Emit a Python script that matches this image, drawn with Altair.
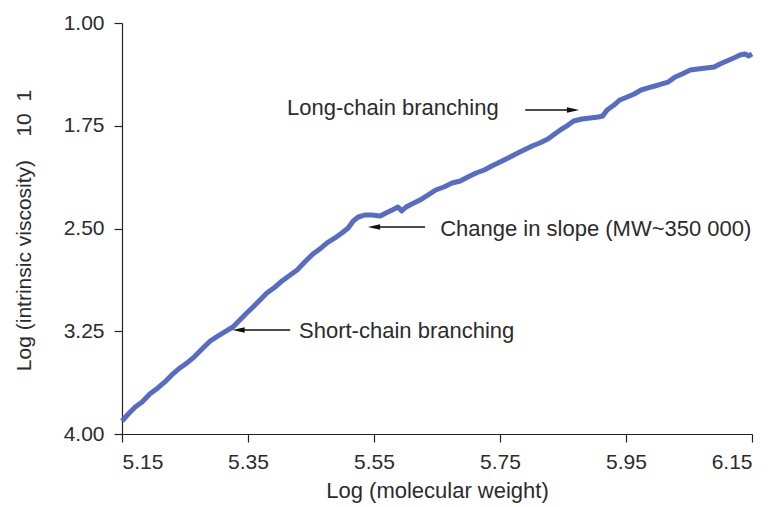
import altair as alt
import pandas as pd

# Curve: log(molecular weight) vs log(intrinsic viscosity)
log_mw = [5.150, 5.160, 5.171, 5.182, 5.194, 5.207, 5.218, 5.229, 5.242, 5.253,
          5.266, 5.277, 5.290, 5.302, 5.313, 5.326, 5.337, 5.348, 5.358, 5.369,
          5.380, 5.393, 5.404, 5.417, 5.428, 5.440, 5.453, 5.464, 5.475, 5.488,
          5.499, 5.509, 5.517, 5.525, 5.536, 5.547, 5.560, 5.569, 5.579, 5.588,
          5.594, 5.601, 5.610, 5.623, 5.636, 5.648, 5.661, 5.674, 5.687, 5.699,
          5.712, 5.725, 5.737, 5.750, 5.763, 5.775, 5.788, 5.801, 5.813, 5.826,
          5.839, 5.848, 5.858, 5.867, 5.880, 5.893, 5.906, 5.913, 5.920, 5.931,
          5.940, 5.952, 5.963, 5.974, 5.985, 5.996, 6.007, 6.017, 6.028, 6.039,
          6.052, 6.064, 6.077, 6.090, 6.099, 6.110, 6.121, 6.131, 6.139, 6.145,
          6.150]
log_iv = [3.905, 3.854, 3.803, 3.766, 3.708, 3.664, 3.620, 3.569, 3.518, 3.482,
          3.431, 3.380, 3.321, 3.285, 3.255, 3.219, 3.168, 3.117, 3.073, 3.022,
          2.971, 2.927, 2.883, 2.839, 2.803, 2.745, 2.686, 2.650, 2.606, 2.569,
          2.533, 2.496, 2.445, 2.416, 2.401, 2.401, 2.409, 2.387, 2.365, 2.343,
          2.372, 2.343, 2.321, 2.292, 2.255, 2.219, 2.197, 2.168, 2.153, 2.124,
          2.095, 2.073, 2.044, 2.015, 1.985, 1.956, 1.927, 1.898, 1.876, 1.847,
          1.803, 1.774, 1.745, 1.715, 1.701, 1.693, 1.686, 1.679, 1.635, 1.599,
          1.562, 1.540, 1.518, 1.489, 1.474, 1.460, 1.445, 1.431, 1.394, 1.372,
          1.343, 1.336, 1.328, 1.321, 1.299, 1.277, 1.255, 1.234, 1.226, 1.241,
          1.226]

x_ticks = [5.15, 5.35, 5.55, 5.75, 5.95, 6.15]
y_ticks = [1.00, 1.75, 2.50, 3.25, 4.00]

# Annotations
ann_text = ["Long-chain branching", "Change in slope (MW~350 000)", "Short-chain branching"]
ann_text_x = [5.412, 5.655, 5.431]
ann_text_y = [1.62, 2.50, 3.25]
arrow_x_start = [5.790, 5.631, 5.417]
arrow_x_end = [5.866, 5.550, 5.335]
arrow_y = [1.635, 2.489, 3.241]
# arrowhead shapes (right- and left-pointing, long and narrow)
RIGHT = "M 1 0 L -1 -0.45 L -1 0.45 Z"
LEFT = "M -1 0 L 1 -0.45 L 1 0.45 Z"
arrow_shape = [RIGHT, LEFT, LEFT]

FONT = "Liberation Sans, Arial, sans-serif"
TXT = "#2b2b2b"
NB = "\u00a0"

curve = pd.DataFrame({"mw": log_mw, "iv": log_iv})
ann = pd.DataFrame({"text": ann_text, "tx": ann_text_x, "ty": ann_text_y,
                    "x0": arrow_x_start, "x1": arrow_x_end, "ay": arrow_y,
                    "shape": arrow_shape})

xscale = alt.Scale(domain=[5.15, 6.15], nice=False, zero=False)
yscale = alt.Scale(domain=[1.0, 4.0], reverse=True, nice=False, zero=False)

y_title = "Log (intrinsic viscosity)" + NB * 4 + "10" + NB * 2 + "1"

line = alt.Chart(curve).mark_line(color="#586cc6", strokeWidth=5, strokeJoin="round").encode(
    x=alt.X("mw:Q", scale=xscale,
            axis=alt.Axis(title="Log (molecular weight)", values=x_ticks, format=".2f",
                          titleX=315, titleY=56, titleBaseline="middle",
                          titleAlign="center")),
    y=alt.Y("iv:Q", scale=yscale,
            axis=alt.Axis(title=y_title, values=y_ticks, format=".2f",
                          titleX=-98, titleY=207, titleBaseline="middle",
                          titleAlign="center", titleAngle=-90, titleFontSize=21)),
)

rules = alt.Chart(ann).mark_rule(color="#111111", strokeWidth=1.3).encode(
    x="x0:Q", x2="x1:Q", y="ay:Q"
)

heads = alt.Chart(ann).mark_point(filled=True, color="#111111", size=150, opacity=1,
                                  strokeWidth=0).encode(
    x="x1:Q", y="ay:Q",
    shape=alt.Shape("shape:N", scale=None),
)

labels = alt.Chart(ann).mark_text(align="left", baseline="middle", font=FONT,
                                  fontSize=22, color=TXT).encode(
    x="tx:Q", y="ty:Q", text="text:N"
)

chart = alt.layer(line, rules, heads, labels).properties(
    width=630, height=411,
    autosize=alt.AutoSizeParams(type="none"),
    padding={"left": 114, "top": 15, "right": 12, "bottom": 70},
).configure_view(stroke=None).configure_axis(
    grid=False, domainColor="#222222", tickColor="#222222", domainWidth=1.2, tickWidth=1.2,
    tickSize=8, labelFont=FONT, labelFontSize=21, labelColor=TXT, labelPadding=9,
    titleFont=FONT, titleFontSize=22, titleColor=TXT, titleFontWeight="normal",
).configure_axisY(labelPadding=10)

chart.save("out.html", embed_options={"renderer": "svg", "actions": False})
